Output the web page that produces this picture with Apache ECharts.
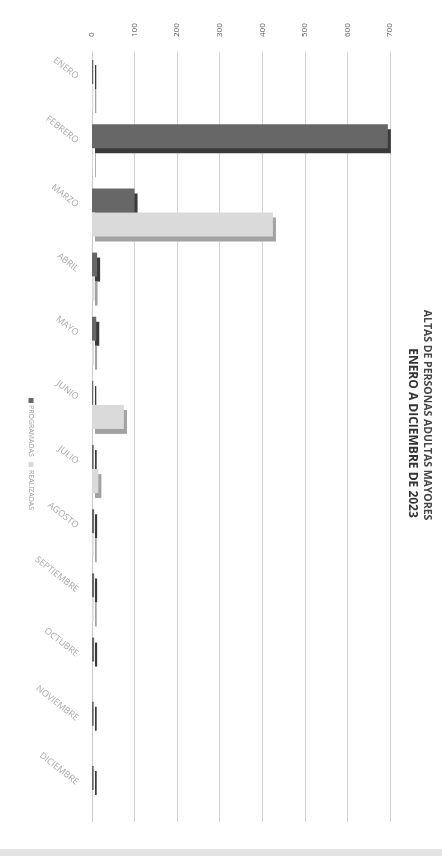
<!DOCTYPE html>
<html>
<head>
    <meta charset="utf-8">
    <title>Altas de personas adultas mayores 2023</title>
    <script src="https://cdn.jsdelivr.net/npm/echarts@6/dist/echarts.min.js"></script>
    <style>
        html, body { margin: 0; padding: 0; background: #fff; }
        #main { width: 442px; height: 856px; }
    </style>
</head>
<body>
<div id="main"></div>
<script>
    // datos (girado 90°)
    const meses = ['ENERO', 'FEBRERO', 'MARZO', 'ABRIL', 'MAYO', 'JUNIO', 'JULIO',
        'AGOSTO', 'SEPTIEMBRE', 'OCTUBRE', 'NOVIEMBRE', 'DICIEMBRE'];
    const programadas = [3, 695, 100, 12, 10, 3, 4, 5, 5, 5, 4, 4];
    const realizadas = [3, 2, 425, 6, 5, 75, 15, 4, 4, 0, 0, 0];
    const valorMax = 700;
    const valorPaso = 100;
    const titulo1 = 'ALTAS DE PERSONAS ADULTAS MAYORES';
    const titulo2 = 'ENERO A DICIEMBRE DE 2023';

    const fuente = '"Open Sans", "DejaVu Sans", sans-serif';
    const colorProg = '#676767';
    const colorReal = '#dadada';

    var myChart = echarts.init(document.getElementById('main'));

    option = {
        backgroundColor: '#ffffff',
        animation: false,
        grid: {
            left: 92,
            right: 52,
            top: 52,
            bottom: 34
        },
        xAxis: {
            type: 'value',
            position: 'top',
            min: 0,
            max: valorMax,
            interval: valorPaso,
            axisLine: { show: false },
            axisTick: { show: false },
            axisLabel: {
                rotate: -90,
                margin: 15,
                fontSize: 8,
                color: '#555',
                fontFamily: fuente
            },
            splitLine: {
                show: true,
                lineStyle: { color: '#d2d2d2', width: 1 }
            }
        },
        yAxis: {
            type: 'category',
            inverse: true,
            data: meses,
            axisLine: {
                show: true,
                lineStyle: { color: '#c8c8c8', type: 'dotted' }
            },
            axisTick: { show: false },
            axisLabel: {
                rotate: -38,
                margin: 6,
                // las etiquetas quedan un poco por encima de cada grupo
                padding: [0, 11, 45, 0],
                fontSize: 9,
                color: '#a8a8a8',
                fontFamily: fuente
            }
        },
        graphic: [
            {
                type: 'text',
                x: 427,
                y: 415,
                rotation: -Math.PI / 2,
                style: {
                    text: titulo1,
                    fill: '#444',
                    font: 'bold 10.5px ' + fuente,
                    textAlign: 'center',
                    textVerticalAlign: 'middle'
                }
            },
            {
                type: 'text',
                x: 412,
                y: 433,
                rotation: -Math.PI / 2,
                style: {
                    text: titulo2,
                    fill: '#333',
                    font: 'bold 12px ' + fuente,
                    textAlign: 'center',
                    textVerticalAlign: 'middle'
                }
            },
            {
                // leyenda girada
                type: 'group',
                x: 31,
                y: 398,
                rotation: -Math.PI / 2,
                children: [
                    {
                        type: 'rect',
                        shape: { x: 0, y: -2.5, width: 5, height: 5 },
                        style: { fill: colorProg }
                    },
                    {
                        type: 'text',
                        x: 7,
                        y: 0,
                        style: {
                            text: 'PROGRAMADAS',
                            fill: '#999',
                            font: '7px ' + fuente,
                            textVerticalAlign: 'middle'
                        }
                    },
                    {
                        type: 'rect',
                        shape: { x: 64, y: -2.5, width: 5, height: 5 },
                        style: { fill: colorReal }
                    },
                    {
                        type: 'text',
                        x: 72,
                        y: 0,
                        style: {
                            text: 'REALIZADAS',
                            fill: '#999',
                            font: '7px ' + fuente,
                            textVerticalAlign: 'middle'
                        }
                    }
                ]
            },
            {
                type: 'rect',
                shape: { x: 0, y: 849, width: 442, height: 7 },
                style: { fill: '#e4e4e4' }
            }
        ],
        series: [
            {
                name: 'PROGRAMADAS',
                type: 'bar',
                barWidth: 24,
                barGap: '0%',
                data: programadas,
                itemStyle: {
                    color: colorProg,
                    shadowColor: '#3a3a3a',
                    shadowOffsetX: 3,
                    shadowOffsetY: 5,
                    shadowBlur: 0
                },
                emphasis: { disabled: true }
            },
            {
                name: 'REALIZADAS',
                type: 'bar',
                barWidth: 24,
                barGap: '0%',
                data: realizadas,
                itemStyle: {
                    color: colorReal,
                    shadowColor: '#a2a2a2',
                    shadowOffsetX: 3,
                    shadowOffsetY: 5,
                    shadowBlur: 0
                },
                emphasis: { disabled: true }
            }
        ]
    };
    myChart.setOption(option);
</script>
</body>
</html>
